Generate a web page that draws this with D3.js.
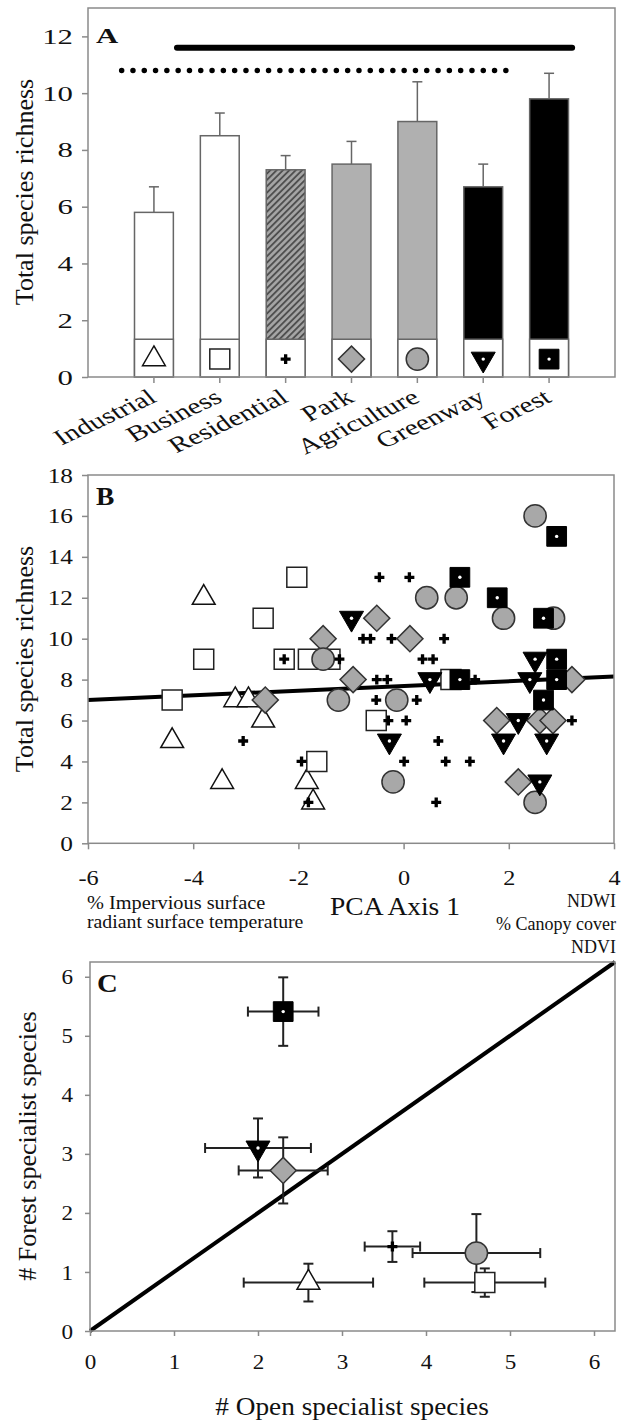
<!DOCTYPE html>
<html>
<head>
<meta charset="utf-8">
<script src="https://cdn.jsdelivr.net/npm/d3@7"></script>
<style>
  body { margin: 0; background: #fff; }
</style>
</head>
<body>
<svg id="fig" width="625" height="1424"></svg>
<script>
// ---- Panel A data: total species richness by land use (mean + SE)
var landUse = ["Industrial", "Business", "Residential", "Park", "Agriculture", "Greenway", "Forest"];
var meanRichness = [5.8, 8.5, 7.3, 7.5, 9.0, 6.7, 9.8];
var seRichness = [0.9, 0.8, 0.5, 0.8, 1.4, 0.8, 0.9];
var yTicksA = [0, 2, 4, 6, 8, 10, 12];
// homogeneous subsets: [from, to] in category units, and the richness level they sit at
var subsetSolid = [1.35, 7.35, 11.6];
var subsetDotted = [0.51, 6.36, 10.8];

// ---- Panel B data: richness vs PCA axis 1, one array per land use
var pcaIndustrial = [[-4.4, 5], [-3.8, 12], [-3.45, 3], [-3.2, 7], [-2.95, 7], [-2.67, 6], [-1.84, 3], [-1.72, 2]];
var pcaBusiness = [[-4.4, 7], [-3.8, 9], [-2.67, 11], [-2.03, 13], [-2.27, 9], [-1.81, 9], [-1.4, 9], [-1.65, 4], [-0.52, 6], [0.9, 8]];
var pcaResidential = [[-3.05, 5], [-1.94, 4], [-1.81, 2], [-2.27, 9], [-1.22, 9], [-0.46, 13], [0.11, 13],
  [-0.77, 10], [-0.63, 10], [-0.23, 10], [0.77, 10], [0.36, 9], [0.56, 9], [-0.51, 8], [-0.31, 8], [1.36, 8],
  [-0.52, 7], [0.25, 7], [-0.29, 6], [0.05, 6], [0.66, 5], [0.01, 4], [0.8, 4], [1.26, 4], [0.62, 2], [3.2, 6]];
var pcaPark = [[-2.63, 7], [-1.53, 10], [-0.51, 11], [0.12, 10], [-0.96, 8], [1.77, 6], [2.59, 6], [2.84, 6], [2.18, 3], [3.2, 8]];
var pcaAgriculture = [[-1.53, 9], [0.44, 12], [1.0, 12], [2.5, 16], [1.9, 11], [2.85, 11], [-1.24, 7], [-0.13, 7], [-0.2, 3], [2.5, 2]];
var pcaGreenway = [[-0.99, 11], [0.5, 8], [2.5, 9], [2.4, 8], [-0.27, 5], [2.18, 6], [1.9, 5], [2.72, 5], [2.59, 3]];
var pcaForest = [[1.07, 13], [1.78, 12], [2.91, 15], [2.66, 11], [1.07, 8], [2.91, 9], [2.91, 8], [2.66, 7]];
var regression = [[-6, 7.0], [4, 8.15]];
var xTicksB = [-6, -4, -2, 0, 2, 4];
var yTicksB = [0, 2, 4, 6, 8, 10, 12, 14, 16, 18];

// ---- Panel C data: open vs forest specialists (mean +- SE), same order as landUse
var openMean = [2.6, 4.7, 3.6, 2.3, 4.6, 2.0, 2.3];
var openSE = [0.77, 0.72, 0.33, 0.53, 0.76, 0.63, 0.42];
var forestMean = [0.82, 0.82, 1.43, 2.72, 1.32, 3.1, 5.41];
var forestSE = [0.32, 0.24, 0.26, 0.56, 0.66, 0.5, 0.58];
var ticksC = [0, 1, 2, 3, 4, 5, 6];

var FONT = '"Liberation Serif", "Times New Roman", serif';
var GREY = "#8a8a8a";
var svg = d3.select("#fig");
svg.append("rect").attr("width", 625).attr("height", 1424).attr("fill", "#fff");

// hatch for residential bar
var pat = svg.append("defs").append("pattern")
  .attr("id", "hatch").attr("patternUnits", "userSpaceOnUse")
  .attr("width", 4.5).attr("height", 4.5).attr("patternTransform", "rotate(45)");
pat.append("rect").attr("width", 4.5).attr("height", 4.5).attr("fill", "#a6a6a6");
pat.append("line").attr("x1", 1).attr("y1", 0).attr("x2", 1).attr("y2", 4.5)
  .attr("stroke", "#4a4a4a").attr("stroke-width", 1.8);

var barFill = { Industrial: "#fff", Business: "#fff", Residential: "url(#hatch)", Park: "#b0b0b0",
  Agriculture: "#b0b0b0", Greenway: "#000", Forest: "#000" };

// marker shapes per land use
function drawMarker(g, kind, cx, cy) {
  var m = g.append("g").attr("transform", "translate(" + cx + "," + cy + ")");
  if (kind === "Industrial") {
    m.append("path").attr("d", d3.symbol(d3.symbolTriangle, 225)())
      .attr("fill", "#fff").attr("stroke", "#111").attr("stroke-width", 1.5);
  } else if (kind === "Business") {
    m.append("path").attr("d", d3.symbol(d3.symbolSquare, 400)())
      .attr("fill", "#fff").attr("stroke", "#222").attr("stroke-width", 1.5);
  } else if (kind === "Residential") {
    m.append("path").attr("d", d3.symbol(d3.symbolCross, 55)()).attr("fill", "#000");
  } else if (kind === "Park") {
    m.append("path").attr("d", d3.symbol(d3.symbolSquare, 340)()).attr("transform", "rotate(45)")
      .attr("fill", "#a8a8a8").attr("stroke", "#333").attr("stroke-width", 1.5);
  } else if (kind === "Agriculture") {
    m.append("path").attr("d", d3.symbol(d3.symbolCircle, 390)())
      .attr("fill", "#a8a8a8").attr("stroke", "#333").attr("stroke-width", 1.5);
  } else if (kind === "Greenway") {
    m.append("path").attr("d", d3.symbol(d3.symbolTriangle, 250)()).attr("transform", "rotate(180)")
      .attr("fill", "#000").attr("stroke", "#000").attr("stroke-width", 1);
    m.append("circle").attr("r", 1.7).attr("fill", "#fff");
  } else {
    m.append("path").attr("d", d3.symbol(d3.symbolSquare, 390)())
      .attr("fill", "#000").attr("stroke", "#000").attr("stroke-width", 1);
    m.append("circle").attr("r", 1.7).attr("fill", "#fff");
  }
}

// axis styling; sx widens the tick labels the way the source figure was stretched
function styleAxis(g, size, sx) {
  g.attr("font-family", FONT).attr("font-size", size);
  g.selectAll(".domain").remove();
  g.selectAll(".tick line").attr("stroke", GREY).attr("stroke-width", 1.5);
  g.selectAll(".tick text").attr("fill", "#111").each(function () {
    var t = d3.select(this);
    var x = +t.attr("x") || 0;
    t.attr("x", x / sx).attr("transform", "scale(" + sx + ",1)");
  });
}

function frame(x0, y0, x1, y1) {
  svg.append("rect").attr("x", x0).attr("y", y0).attr("width", x1 - x0).attr("height", y1 - y0)
    .attr("fill", "none").attr("stroke", GREY).attr("stroke-width", 1.5);
}

function label(txt, x, y, size, opts) {
  opts = opts || {};
  var tf = "translate(" + x + "," + y + ")";
  if (opts.sx) tf += " scale(" + opts.sx + ",1)";
  if (opts.rotate) tf += " rotate(" + opts.rotate + ")";
  var t = svg.append("text").attr("transform", tf).text(txt)
    .attr("font-family", FONT).attr("font-size", size).attr("fill", "#111")
    .attr("text-anchor", opts.anchor || "start");
  if (opts.bold) t.attr("font-weight", "bold");
  return t;
}

// ================= Panel A =================
var yA = d3.scaleLinear().domain([0, 13]).range([377, 8]);
var xA = d3.scaleBand().domain(landUse).range([121, 582]).paddingInner(0.41).paddingOuter(0.205);
var catA = d3.scaleLinear().domain([0.5, 7.5]).range([121, 582]);

var gA = svg.append("g");
var bars = gA.selectAll("g.bar").data(landUse).join("g").attr("class", "bar");
bars.append("line")
  .attr("x1", function (d) { return xA(d) + xA.bandwidth() / 2; })
  .attr("x2", function (d) { return xA(d) + xA.bandwidth() / 2; })
  .attr("y1", function (d, i) { return yA(meanRichness[i]); })
  .attr("y2", function (d, i) { return yA(meanRichness[i] + seRichness[i]); })
  .attr("stroke", "#666").attr("stroke-width", 1.5);
bars.append("line")
  .attr("x1", function (d) { return xA(d) + xA.bandwidth() / 2 - 5; })
  .attr("x2", function (d) { return xA(d) + xA.bandwidth() / 2 + 5; })
  .attr("y1", function (d, i) { return yA(meanRichness[i] + seRichness[i]); })
  .attr("y2", function (d, i) { return yA(meanRichness[i] + seRichness[i]); })
  .attr("stroke", "#666").attr("stroke-width", 1.5);
bars.append("rect")
  .attr("x", function (d) { return xA(d); })
  .attr("width", xA.bandwidth())
  .attr("y", function (d, i) { return yA(meanRichness[i]); })
  .attr("height", function (d, i) { return yA(0) - yA(meanRichness[i]); })
  .attr("fill", function (d) { return barFill[d]; })
  .attr("stroke", "#666").attr("stroke-width", 1.5);
// white key box at the foot of each bar
bars.append("rect")
  .attr("x", function (d) { return xA(d); })
  .attr("width", xA.bandwidth())
  .attr("y", yA(1.33))
  .attr("height", yA(0) - yA(1.33))
  .attr("fill", "#fff").attr("stroke", "#666").attr("stroke-width", 1.5);
landUse.forEach(function (d) {
  drawMarker(gA, d, xA(d) + xA.bandwidth() / 2, yA(0.63));
});

// subset lines
gA.append("line")
  .attr("x1", catA(subsetSolid[0])).attr("x2", catA(subsetSolid[1]))
  .attr("y1", yA(subsetSolid[2])).attr("y2", yA(subsetSolid[2]))
  .attr("stroke", "#000").attr("stroke-width", 6).attr("stroke-linecap", "round");
gA.append("line")
  .attr("x1", catA(subsetDotted[0])).attr("x2", catA(subsetDotted[1]))
  .attr("y1", yA(subsetDotted[2])).attr("y2", yA(subsetDotted[2]))
  .attr("stroke", "#000").attr("stroke-width", 5.5).attr("stroke-linecap", "round")
  .attr("stroke-dasharray", "0 11.3");

frame(88, 8, 615, 377);
var axA = svg.append("g").attr("transform", "translate(88,0)")
  .call(d3.axisLeft(yA).tickValues(yTicksA).tickSize(6).tickPadding(9));
styleAxis(axA, 22, 1.4);
var axAx = svg.append("g").attr("transform", "translate(0,377)")
  .call(d3.axisBottom(xA).tickSize(6).tickSizeOuter(0).tickFormat(""));
styleAxis(axAx, 20, 1);
landUse.forEach(function (d) {
  var cx = xA(d) + xA.bandwidth() / 2;
  label(d, cx + 4, 401, 22, { anchor: "end", rotate: -32, sx: 1.35 });
});
label("A", 96, 43, 22, { bold: true, sx: 1.4 });
label("Total species richness", 33, 192, 26, { anchor: "middle", rotate: -90 });

// ================= Panel B =================
var xB = d3.scaleLinear().domain([-6, 4]).range([88, 614]);
var yB = d3.scaleLinear().domain([0, 18]).range([843.3, 475]);

var gB = svg.append("g");
gB.append("path").datum(regression)
  .attr("d", d3.line().x(function (d) { return xB(d[0]); }).y(function (d) { return yB(d[1]); }))
  .attr("stroke", "#000").attr("stroke-width", 4).attr("fill", "none");

var groupsB = [
  ["Industrial", pcaIndustrial], ["Business", pcaBusiness], ["Park", pcaPark],
  ["Agriculture", pcaAgriculture], ["Greenway", pcaGreenway], ["Forest", pcaForest],
  ["Residential", pcaResidential]
];
groupsB.forEach(function (grp) {
  grp[1].forEach(function (p) { drawMarker(gB, grp[0], xB(p[0]), yB(p[1])); });
});

frame(88, 475, 614, 843.3);
var axB = svg.append("g").attr("transform", "translate(88,0)")
  .call(d3.axisLeft(yB).tickValues(yTicksB).tickSize(6).tickPadding(9));
styleAxis(axB, 22, 1.15);
var axBx = svg.append("g").attr("transform", "translate(0,843.3)")
  .call(d3.axisBottom(xB).tickValues(xTicksB).tickSize(6).tickPadding(20)
    .tickFormat(function (d) { return d < 0 ? "-" + Math.abs(d) : d; }));
styleAxis(axBx, 22, 1.1);
label("B", 96, 505, 25, { bold: true, sx: 1.1 });
label("Total species richness", 33, 659, 26, { anchor: "middle", rotate: -90 });
label("PCA Axis 1", 395, 915, 25, { anchor: "middle", sx: 1.1 });
label("% Impervious surface", 87, 909, 18, { sx: 1.13 });
label("radiant surface temperature", 87, 928, 18, { sx: 1.1 });
label("NDWI", 616, 907, 18, { anchor: "end" });
label("% Canopy cover", 616, 930, 18, { anchor: "end" });
label("NDVI", 616, 953, 18, { anchor: "end" });

// ================= Panel C =================
var xC = d3.scaleLinear().domain([0, 6.25]).range([90, 615]);
var yC = d3.scaleLinear().domain([0, 6.25]).range([1331, 962]);

var gC = svg.append("g");
gC.append("line")
  .attr("x1", xC(0)).attr("y1", yC(0)).attr("x2", xC(6.25)).attr("y2", yC(6.25))
  .attr("stroke", "#000").attr("stroke-width", 4);

landUse.forEach(function (d, i) {
  var cx = xC(openMean[i]), cy = yC(forestMean[i]);
  var xl = xC(openMean[i] - openSE[i]), xr = xC(openMean[i] + openSE[i]);
  var yt = yC(forestMean[i] + forestSE[i]), yb = yC(forestMean[i] - forestSE[i]);
  var eb = gC.append("g").attr("stroke", "#222").attr("stroke-width", 2);
  eb.append("line").attr("x1", xl).attr("x2", xr).attr("y1", cy).attr("y2", cy);
  eb.append("line").attr("x1", xl).attr("x2", xl).attr("y1", cy - 5).attr("y2", cy + 5);
  eb.append("line").attr("x1", xr).attr("x2", xr).attr("y1", cy - 5).attr("y2", cy + 5);
  eb.append("line").attr("x1", cx).attr("x2", cx).attr("y1", yt).attr("y2", yb);
  eb.append("line").attr("x1", cx - 5).attr("x2", cx + 5).attr("y1", yt).attr("y2", yt);
  eb.append("line").attr("x1", cx - 5).attr("x2", cx + 5).attr("y1", yb).attr("y2", yb);
});
landUse.forEach(function (d, i) {
  drawMarker(gC, d, xC(openMean[i]), yC(forestMean[i]));
});

frame(90, 962, 615, 1331);
var axC = svg.append("g").attr("transform", "translate(90,0)")
  .call(d3.axisLeft(yC).tickValues(ticksC).tickSize(5).tickPadding(12).tickFormat(d3.format("d")));
styleAxis(axC, 22, 1.05);
var axCx = svg.append("g").attr("transform", "translate(0,1331)")
  .call(d3.axisBottom(xC).tickValues(ticksC).tickSize(5).tickPadding(17).tickFormat(d3.format("d")));
styleAxis(axCx, 22, 1.05);
label("C", 97, 992, 25, { bold: true, sx: 1.15 });
label("# Forest specialist species", 36, 1146, 26, { anchor: "middle", rotate: -90 });
label("# Open specialist species", 352, 1415, 26, { anchor: "middle", sx: 1.05 });
</script>
</body>
</html>
